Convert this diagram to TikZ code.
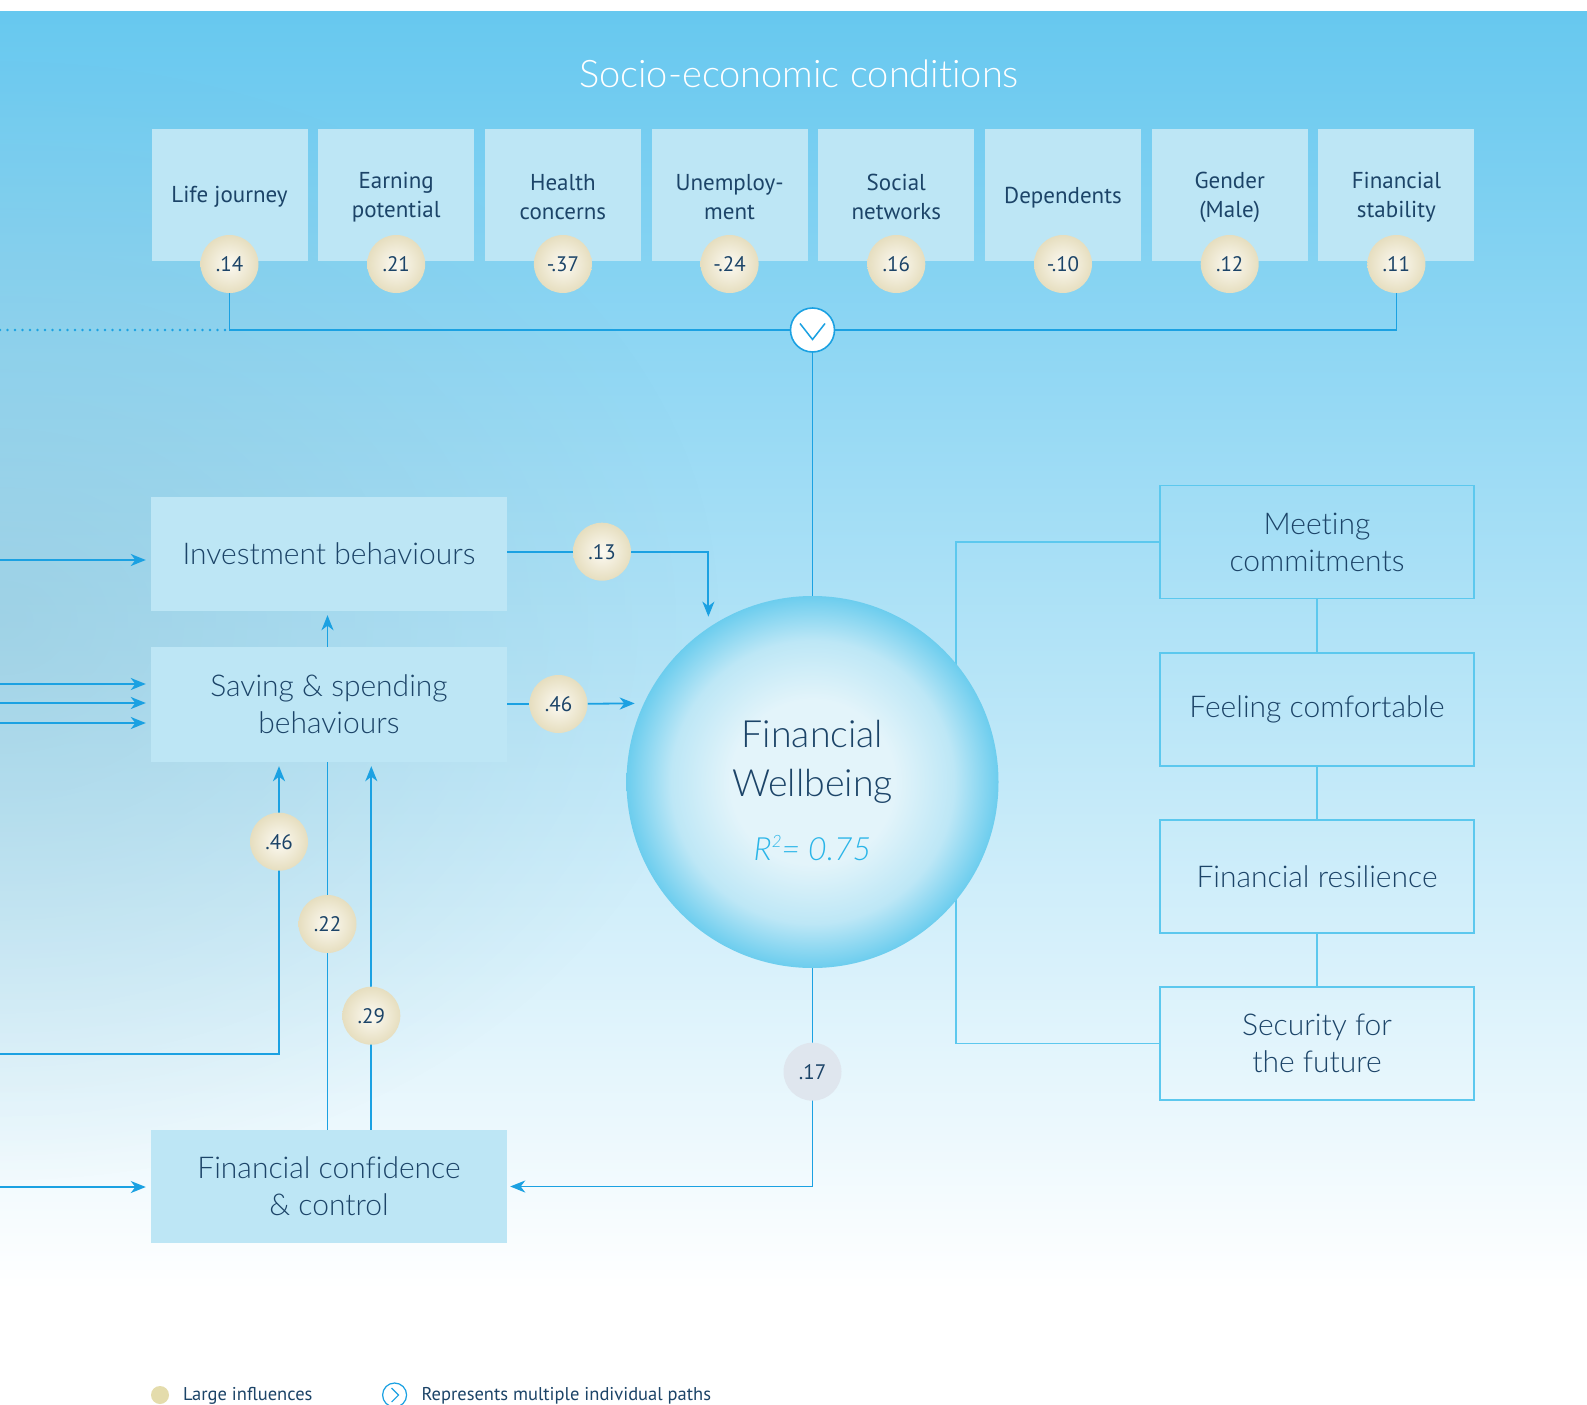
\documentclass[tikz,border=0pt]{standalone}
\usepackage{fontspec}
\setmainfont{PT Sans}
\IfFontExistsTF{Lato Light}{\newfontfamily\lightfont{Lato Light}[Ligatures=CommonOff]}{\newfontfamily\lightfont{PT Sans}}
\usetikzlibrary{arrows.meta,calc,fadings}
\definecolor{navy}{HTML}{1C4468}
\definecolor{lineblue}{HTML}{1BA1E2}
\definecolor{brline}{HTML}{5CC8EE}
\definecolor{boxfill}{HTML}{BDE6F5}
\definecolor{bgtop}{HTML}{67C8EF}
\definecolor{bgmid}{HTML}{B2E1F4}
\definecolor{leftgray}{HTML}{8CBFD2}
\definecolor{creamin}{HTML}{FCFAF3}
\definecolor{creamout}{HTML}{E6DEBF}
\definecolor{rtext}{HTML}{2AB5E8}
\definecolor{grayb}{HTML}{DFE6EE}
\definecolor{legdot}{HTML}{E4DCAC}
\definecolor{fwA}{HTML}{E3F4FA}
\definecolor{fwB}{HTML}{BDE7F6}
\definecolor{fwC}{HTML}{6CCDEE}
\pgfdeclarelayer{back}
\pgfdeclarelayer{lines}
\pgfsetlayers{back,lines,main}
\pgfdeclareradialshading{fwball}{\pgfpoint{0bp}{0bp}}{color(0bp)=(fwA); color(11bp)=(fwA); color(19bp)=(fwB); color(25bp)=(fwC); color(50bp)=(fwC)}
\tikzfading[name=leftglow, inner color=transparent!55, outer color=transparent!100]
\tikzset{
  toplabel/.style={align=center, text=navy, inner sep=0pt, yshift=-2.5pt, font=\fontsize{23}{29}\selectfont},
  topbox/.style={rectangle, fill=boxfill, minimum width=156pt, minimum height=132pt, inner sep=0pt, label={[toplabel]center:#1}},
  bubble/.style={circle, minimum size=58pt, inner sep=0pt, inner color=creamin, outer color=creamout, text=navy, font=\fontsize{21}{24}\selectfont},
  graybubble/.style={circle, minimum size=58pt, inner sep=0pt, fill=grayb, text=navy, font=\fontsize{21}{24}\selectfont},
  leftbox/.style={rectangle, fill=boxfill, minimum width=356pt, minimum height=114pt, inner sep=0pt, align=center, text=navy, font=\lightfont\fontsize{30}{37}\selectfont},
  rightbox/.style={rectangle, draw=brline, line width=1.5pt, minimum width=314pt, minimum height=113pt, inner sep=0pt, align=center, text=navy, font=\lightfont\fontsize{30}{37}\selectfont},
  conn/.style={draw=lineblue, line width=1.8pt},
  arr/.style={conn, -{Stealth[length=15pt,width=12pt,inset=4.5pt]}},
  brk/.style={draw=brline, line width=1.5pt},
  dotline/.style={draw=lineblue, line width=2.6pt, dash pattern=on 0pt off 7.5pt, line cap=round},
  legtext/.style={anchor=base west, text=navy, font=\fontsize{18.5}{22}\selectfont},
}
\begin{document}
\begin{tikzpicture}[x=1pt,y=-1pt]
\useasboundingbox (0,0) rectangle (1587,1405);
\begin{pgfonlayer}{back}
  \fill[white] (0,0) rectangle (1587,1405);
  \shade[top color=bgtop, middle color=bgmid, bottom color=white] (0,12) rectangle (1587,1290);
  \begin{scope}
    \clip (0,12) rectangle (1587,1290);
    \fill[leftgray, path fading=leftglow] (0,620) ellipse [x radius=720pt, y radius=560pt];
  \end{scope}
\end{pgfonlayer}

% title
\node[text=white, font=\lightfont\fontsize{38}{44}\selectfont] (title) at (799,74) {Socio-economic conditions};

% top boxes
\node[topbox={Life journey}] (b1) at (229.5,194.7) {};
\node[topbox={Earning\\potential}] (b2) at (396.2,194.7) {};
\node[topbox={Health\\concerns}] (b3) at (562.9,194.7) {};
\node[topbox={Unemploy-\\ment}] (b4) at (729.6,194.7) {};
\node[topbox={Social\\networks}] (b5) at (896.3,194.7) {};
\node[topbox={Dependents}] (b6) at (1063.0,194.7) {};
\node[topbox={Gender\\(Male)}] (b7) at (1229.7,194.7) {};
\node[topbox={Financial\\stability}] (b8) at (1396.4,194.7) {};

\node[bubble] (e1) at (229.5,264) {.14};
\node[bubble] (e2) at (396.2,264) {.21};
\node[bubble] (e3) at (562.9,264) {-.37};
\node[bubble] (e4) at (729.6,264) {-.24};
\node[bubble] (e5) at (896.3,264) {.16};
\node[bubble] (e6) at (1063.0,264) {-.10};
\node[bubble] (e7) at (1229.7,264) {.12};
\node[bubble] (e8) at (1396.4,264) {.11};

% hub
\node[circle, draw=lineblue, fill=white, line width=1.6pt, minimum size=44pt, inner sep=0pt] (hub) at (812.5,330) {};
\draw[lineblue, line width=1.5pt] ($(hub)+(-12.5,-6.5)$) -- ($(hub)+(0,9.5)$) -- ($(hub)+(12.5,-6.5)$);

% big circle
\node[circle, minimum size=372pt, inner sep=0pt, shade, shading=fwball] (fw) at (812.5,782) {};
\node[text=navy, align=center, font=\lightfont\fontsize{37.5}{48.7}\selectfont] (fwt) at (812.5,762) {Financial\\Wellbeing};
\node[text=rtext, font=\lightfont\fontsize{32}{40}\selectfont\itshape] (rsq) at (812.5,848) {R\raisebox{0.42em}{\fontsize{17}{17}\selectfont 2}= 0.75};

% left boxes
\node[leftbox] (inv) at (329,554) {Investment behaviours};
\node[leftbox, minimum height=115pt] (sav) at (329,704.5) {Saving \& spending\\behaviours};
\node[leftbox, minimum height=113pt] (conf) at (329,1186.5) {Financial confidence\\\& control};

% right boxes
\node[rightbox] (r1) at (1317,542) {Meeting\\commitments};
\node[rightbox] (r2) at (1317,709.5) {Feeling comfortable};
\node[rightbox] (r3) at (1317,876.5) {Financial resilience};
\node[rightbox] (r4) at (1317,1043.5) {Security for\\the future};

% path coefficients
\node[bubble] (p13) at (602,551.7) {.13};
\node[bubble] (p46a) at (558.5,704) {.46};
\node[bubble] (p46b) at (279,841.7) {.46};
\node[bubble] (p22) at (327.5,924) {.22};
\node[bubble] (p29) at (371.3,1015.7) {.29};
\node[graybubble] (p17) at (812.5,1071.7) {.17};

% free ends
\coordinate (dl) at (0,330);
\coordinate (inL) at (0,560);
\coordinate (sL1) at (0,684);
\coordinate (sL2) at (0,703);
\coordinate (sL3) at (0,723);
\coordinate (cL) at (0,1187);
\coordinate (l46) at (0,1054);
\coordinate (brx) at (956,0);

% legend
\node[circle, fill=legdot, minimum size=18pt, inner sep=0pt] (ldot) at (160,1395) {};
\node[legtext] (ltxt1) at (179.5,1400) {Large influences};
\node[circle, draw=lineblue, line width=1.2pt, minimum size=24pt, inner sep=0pt] (lhub) at (394.6,1395) {};
\draw[lineblue, line width=1.2pt] ($(lhub)+(-3,-7)$) -- ($(lhub)+(4,0)$) -- ($(lhub)+(-3,7)$);
\node[legtext] (ltxt2) at (418,1400) {Represents multiple individual paths};

\begin{pgfonlayer}{lines}
  \draw[dotline] (dl) -- (e1.south |- hub);
  \draw[conn] (e1.south) |- (hub.west);
  \draw[conn] (e8.south) |- (hub.east);
  \draw[conn] (hub.south) -- (fw.north);
  \draw[arr, shorten >=5pt] (inL) -- (inL -| inv.west);
  \foreach \c in {sL1,sL2,sL3} \draw[arr, shorten >=5pt] (\c) -- (\c -| sav.west);
  \draw[arr, shorten >=5pt] (cL) -- (cL -| conf.west);
  \draw[conn] (inv.east |- p13) -- (p13);
  \draw[arr, shorten >=11pt] (p13) -| (fw.124.7);
  \draw[conn] (sav.east |- p46a) -- (p46a);
  \draw[arr, shorten >=9pt] (p46a) -- (fw.155.2);
  \draw[arr, shorten >=4pt] (l46) -| (sav.south -| p46b);
  \draw[arr, shorten >=4pt] (conf.north -| p22) -- (inv.south -| p22);
  \draw[arr, shorten >=4pt] (conf.north -| p29) -- (sav.south -| p29);
  \draw[arr, shorten >=3pt] (fw.south) |- (conf.east);
  \draw[brk] (r1.west) -| (brx |- r4.west) -- (r4.west);
  \draw[brk] (r1.south) -- (r2.north);
  \draw[brk] (r2.south) -- (r3.north);
  \draw[brk] (r3.south) -- (r4.north);
\end{pgfonlayer}
\end{tikzpicture}
\end{document}
